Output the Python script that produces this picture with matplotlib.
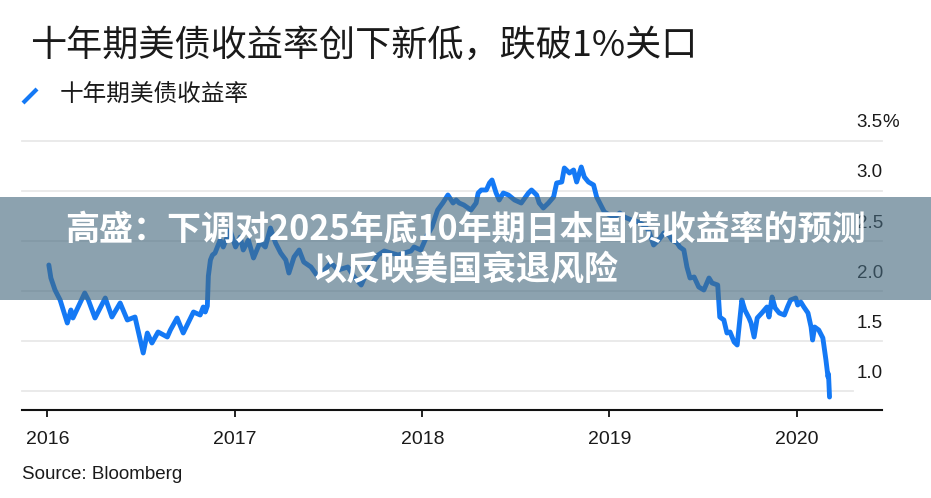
import datetime as dt
import matplotlib
matplotlib.use("Agg")
import matplotlib.pyplot as plt
import matplotlib.dates as mdates
import matplotlib.transforms as mtransforms
from matplotlib.patches import Rectangle
from matplotlib.lines import Line2D

plt.rcParams['font.family'] = ['Liberation Sans', 'Noto Sans CJK SC', 'DejaVu Sans']
CJK = ['Noto Sans CJK SC', 'DejaVu Sans']

title = "十年期美债收益率创下新低，跌破1%关口"
series_name = "十年期美债收益率"
banner_lines = ["高盛：下调对2025年底10年期日本国债收益率的预测", "以反映美国衰退风险"]
source = "Source: Bloomberg"

year_ticks = [2016, 2017, 2018, 2019, 2020]
y_levels = [1.0, 1.5, 2.0, 2.5, 3.0, 3.5]
y_labels = ["1.0", "1.5", "2.0", "2.5", "3.0", "3.5"]

# 10y treasury yield
yield_dates = [
    "2016-01-04", "2016-01-08", "2016-01-16", "2016-01-26", "2016-02-09", "2016-02-16", "2016-02-20",
    "2016-03-14", "2016-03-21", "2016-04-03", "2016-04-23", "2016-05-06", "2016-05-22", "2016-06-05",
    "2016-06-20", "2016-07-06", "2016-07-14", "2016-07-23", "2016-08-04", "2016-08-22", "2016-08-28",
    "2016-09-10", "2016-09-22", "2016-10-12", "2016-10-25", "2016-10-31", "2016-11-04", "2016-11-08",
    "2016-11-10", "2016-11-14", "2016-11-18", "2016-11-23", "2016-12-03", "2016-12-09", "2016-12-22",
    "2017-01-02", "2017-01-11", "2017-01-17", "2017-01-27", "2017-02-06", "2017-02-19", "2017-03-01",
    "2017-03-11", "2017-03-21", "2017-03-31", "2017-04-10", "2017-04-16", "2017-04-26", "2017-05-06",
    "2017-05-15", "2017-05-29", "2017-06-12", "2017-06-24", "2017-07-07", "2017-07-21", "2017-08-09",
    "2017-08-21", "2017-09-04", "2017-09-18", "2017-10-07", "2017-10-19", "2017-11-01", "2017-11-15",
    "2017-11-27", "2017-12-10", "2017-12-16", "2017-12-29", "2018-01-10", "2018-01-20", "2018-01-31",
    "2018-02-10", "2018-02-20", "2018-03-02", "2018-03-08", "2018-03-14", "2018-03-23", "2018-04-06",
    "2018-04-16", "2018-04-20", "2018-04-26", "2018-05-06", "2018-05-12", "2018-05-17", "2018-05-25",
    "2018-05-31", "2018-06-08", "2018-06-18", "2018-06-30", "2018-07-13", "2018-07-27", "2018-08-02",
    "2018-08-12", "2018-08-17", "2018-08-25", "2018-09-04", "2018-09-14", "2018-09-20", "2018-09-30",
    "2018-10-05", "2018-10-15", "2018-10-23", "2018-10-29", "2018-11-07", "2018-11-13", "2018-11-21",
    "2018-12-01", "2018-12-07", "2018-12-13", "2018-12-22", "2019-01-01", "2019-01-11", "2019-01-21",
    "2019-01-30", "2019-02-13", "2019-02-27", "2019-03-08", "2019-03-18", "2019-03-28", "2019-04-07",
    "2019-04-17", "2019-04-27", "2019-05-03", "2019-05-13", "2019-05-18", "2019-05-26", "2019-06-01",
    "2019-06-07", "2019-06-15", "2019-06-24", "2019-07-04", "2019-07-14", "2019-07-20", "2019-07-31",
    "2019-08-04", "2019-08-12", "2019-08-18", "2019-08-24", "2019-09-01", "2019-09-07", "2019-09-16",
    "2019-09-22", "2019-09-30", "2019-10-04", "2019-10-10", "2019-10-16", "2019-10-25", "2019-11-04",
    "2019-11-08", "2019-11-14", "2019-11-20", "2019-11-28", "2019-12-08", "2019-12-14", "2019-12-20",
    "2019-12-30", "2020-01-03", "2020-01-09", "2020-01-15", "2020-01-23", "2020-01-29", "2020-02-01",
    "2020-02-05", "2020-02-13", "2020-02-21", "2020-02-27", "2020-03-02", "2020-03-03", "2020-03-05",
]
yield_values = [
    2.26, 2.13, 2.01, 1.91, 1.68, 1.81, 1.73,
    1.98, 1.91, 1.73, 1.93, 1.74, 1.88, 1.71,
    1.74, 1.38, 1.58, 1.48, 1.59, 1.54, 1.61,
    1.73, 1.58, 1.79, 1.76, 1.84, 1.79, 1.85,
    2.15, 2.31, 2.36, 2.38, 2.51, 2.44, 2.61,
    2.44, 2.54, 2.41, 2.51, 2.33, 2.49, 2.44,
    2.63, 2.48, 2.38, 2.31, 2.18, 2.34, 2.41,
    2.29, 2.24, 2.14, 2.21, 2.28, 2.21, 2.24,
    2.14, 2.06, 2.22, 2.36, 2.40, 2.38, 2.36,
    2.38, 2.40, 2.44, 2.41, 2.55, 2.64, 2.81,
    2.88, 2.96, 2.88, 2.91, 2.88, 2.86, 2.81,
    2.88, 2.98, 3.01, 3.01, 3.08, 3.11, 2.98,
    2.91, 2.98, 2.96, 2.91, 2.88, 2.98, 3.01,
    2.96, 2.88, 2.83, 2.88, 2.94, 3.08, 3.09,
    3.23, 3.18, 3.21, 3.09, 3.24, 3.14, 3.09,
    3.06, 2.94, 2.88, 2.79, 2.76, 2.74, 2.78,
    2.74, 2.71, 2.69, 2.66, 2.61, 2.46, 2.51,
    2.58, 2.56, 2.51, 2.48, 2.44, 2.41, 2.24,
    2.13, 2.14, 2.04, 2.01, 2.13, 2.08, 2.06,
    1.74, 1.71, 1.58, 1.59, 1.49, 1.46, 1.91,
    1.81, 1.73, 1.68, 1.54, 1.73, 1.78, 1.84,
    1.74, 1.94, 1.83, 1.78, 1.76, 1.84, 1.91,
    1.93, 1.86, 1.89, 1.84, 1.78, 1.64, 1.51,
    1.64, 1.61, 1.53, 1.31, 1.14, 1.17, 0.94,
]

W, H = 931, 498
fig = plt.figure(figsize=(W / 100, H / 100), dpi=100)
fig.patch.set_facecolor("white")

# axes: x from px 22 to 882, y from px 141 (3.5) to 410 (axis line)
ax = fig.add_axes([22 / W, (H - 410) / H, (882 - 22) / W, (410 - 141) / H])
dates = [dt.datetime.strptime(d, "%Y-%m-%d") for d in yield_dates]
ax.plot(dates, yield_values, color="#1479f5", lw=3.5, solid_joinstyle="round",
        solid_capstyle="round", zorder=3, clip_on=False)

# 2016-01-01 sits at px 47.3, 2020-01-01 at px 796.7
d0 = mdates.date2num(dt.datetime(2016, 1, 1))
d1 = mdates.date2num(dt.datetime(2020, 1, 1))
ppd = (796.7 - 47.3) / (d1 - d0)
ax.set_xlim(d0 - (47.3 - 22) / ppd, d0 + (882 - 47.3) / ppd)
ax.set_ylim(0.81, 3.5)

for lev in y_levels:
    xmax = (853 - 22) / 860 if lev == 1.0 else 1.0
    ax.axhline(lev, xmin=0, xmax=xmax, color="#e8e8e8", lw=1.3, zorder=1, clip_on=False)

for s in ["top", "left", "right"]:
    ax.spines[s].set_visible(False)
ax.spines["bottom"].set_color("#111111")
ax.spines["bottom"].set_linewidth(1.5)

ax.set_xticks([dt.datetime(y, 1, 1) for y in year_ticks])
ax.set_xticklabels([str(y) for y in year_ticks], fontsize=14, color="#1a1a1a")
ax.tick_params(axis="x", direction="out", length=5, width=1.3, color="#111111", pad=10)
ax.set_yticks([])

# y labels sit above their gridlines, right aligned at px 883
lab_tr = mtransforms.offset_copy(ax.get_yaxis_transform(), fig=fig, x=0, y=18 * 72 / 100, units="points")
for lev, lab in zip(y_levels, y_labels):
    ax.text(1.001, lev, lab, transform=lab_tr, ha="right", va="center", fontsize=13.5,
            color="#1a1a1a", clip_on=False)
    if lev == 3.5:
        ax.text(1.001, lev, "%", transform=lab_tr, ha="left", va="center", fontsize=13.5,
                color="#1a1a1a", clip_on=False)

# title, legend, source
fig.text(30 / W, 1 - 46 / H, title, family=CJK, fontsize=26, color="#1a1a1a", va="center", ha="left")
fig.add_artist(Line2D([23 / W, 37 / W], [1 - 103 / H, 1 - 89 / H], color="#1479f5", lw=3,
                      solid_capstyle="butt", transform=fig.transFigure))
fig.text(60 / W, 1 - 95 / H, series_name, family=CJK, fontsize=17, color="#1a1a1a", va="center", ha="left")
fig.text(22 / W, 1 - 474 / H, source, fontsize=13.5, color="#1a1a1a", va="center", ha="left")

# semi-transparent banner on top
fig.add_artist(Rectangle((0, 1 - 300 / H), 1, 103 / H, transform=fig.transFigure,
                         facecolor="#46697e", alpha=0.62, edgecolor="none", zorder=5))
fig.text(0.5, 1 - 229 / H, banner_lines[0], family=CJK, fontsize=24.5, fontweight="bold",
         color="white", ha="center", va="center", zorder=6)
fig.text(0.5, 1 - 269 / H, banner_lines[1], family=CJK, fontsize=24.5, fontweight="bold",
         color="white", ha="center", va="center", zorder=6)

fig.savefig("out.png", dpi=100, facecolor="white")
